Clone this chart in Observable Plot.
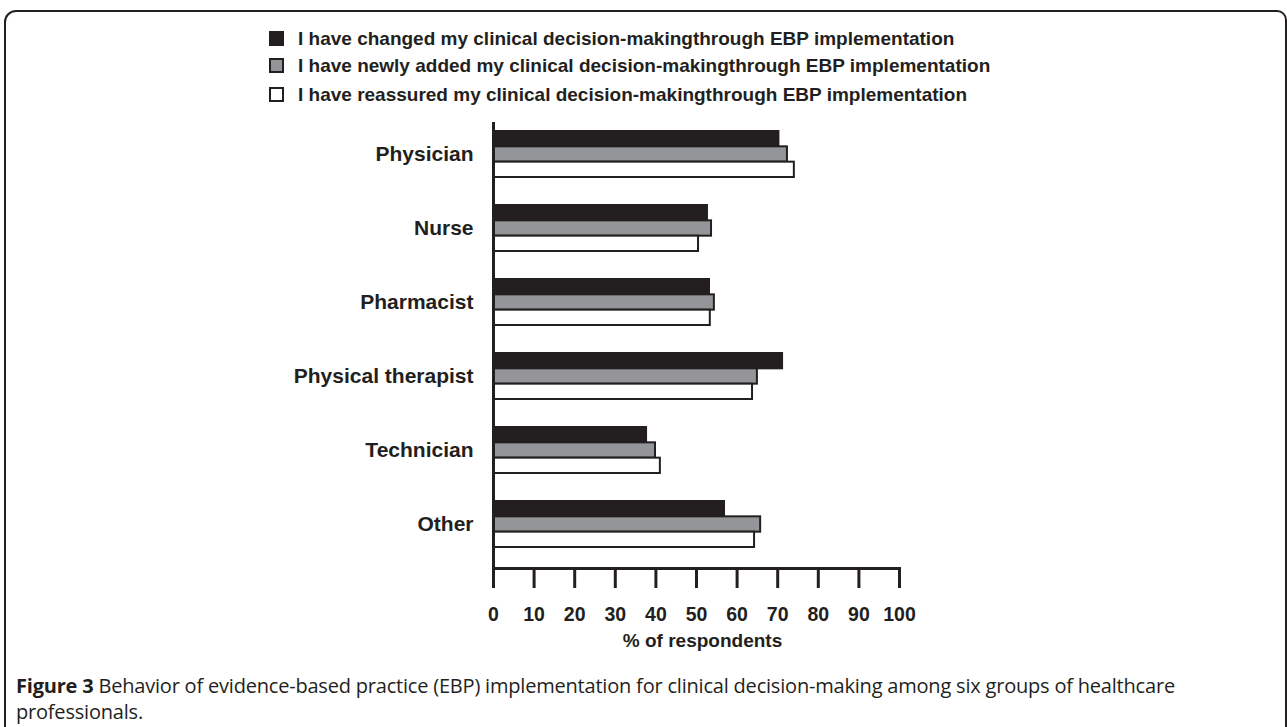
<!DOCTYPE html>
<html>
<head>
<meta charset="utf-8">
<script src="https://cdn.jsdelivr.net/npm/d3@7"></script>
<script src="https://cdn.jsdelivr.net/npm/@observablehq/plot@0.6"></script>
<style>
  html, body { margin: 0; padding: 0; background: #fff; width: 1287px; height: 727px; overflow: hidden; }
  body { position: relative; font-family: "Liberation Sans", Arial, sans-serif; color: #231f20; }
  #frame { position: absolute; left: 4px; top: 10px; width: 1283px; height: 760px;
    border: 2px solid #231f20; border-bottom: none; border-radius: 12px 10px 0 0; box-sizing: border-box; }
  .leg { position: absolute; left: 269px; font-weight: bold; font-size: 19px; line-height: 20px; white-space: nowrap; }
  .leg .sw { position: absolute; left: 0; top: 2px; width: 15px; height: 15px; border: 2px solid #231f20; box-sizing: border-box; }
  .leg .tx { position: absolute; left: 29px; top: 0; }
  #chart { position: absolute; left: 0; top: 110px; }
  #caption { position: absolute; left: 16px; top: 673px; font-family: "Open Sans", sans-serif; font-size: 20px; line-height: 26px; color: #231f20; white-space: nowrap; letter-spacing: -0.2px; }
</style>
</head>
<body>
<div id="frame"></div>
<div id="legend"></div>
<div id="chart"></div>
<div id="caption"><b>Figure 3</b> Behavior of evidence-based practice (EBP) implementation for clinical decision-making among six groups of healthcare<br>professionals.</div>
<script>
// ---- data ----
const categories = ["Physician", "Nurse", "Pharmacist", "Physical therapist", "Technician", "Other"];
const seriesNames = [
  "I have changed my clinical decision-makingthrough EBP implementation",
  "I have newly added my clinical decision-makingthrough EBP implementation",
  "I have reassured my clinical decision-makingthrough EBP implementation"
];
const seriesColors = ["#231f20", "#939598", "#ffffff"];
const changed   = [70.3, 52.7, 53.2, 71.2, 37.7, 56.9];
const added     = [72.4, 53.7, 54.4, 65.0, 39.9, 65.8];
const reassured = [74.1, 50.5, 53.4, 63.8, 41.1, 64.3];
const xTicks = [0, 10, 20, 30, 40, 50, 60, 70, 80, 90, 100];
const xLabel = "% of respondents";

// ---- legend ----
const legendTops = [29, 56, 85];
const legend = document.getElementById("legend");
seriesNames.forEach((name, i) => {
  const row = document.createElement("div");
  row.className = "leg";
  row.style.top = legendTops[i] + "px";
  row.innerHTML = `<span class="sw" style="background:${seriesColors[i]}"></span><span class="tx"></span>`;
  row.querySelector(".tx").textContent = name;
  legend.appendChild(row);
});

// ---- chart ----
const seriesValues = [changed, added, reassured];
const tables = seriesValues.map((vals, s) => categories.map((c, i) => ({group: c, value: vals[i], series: s})));
const bandH = 46;
const barH = bandH / 3;

const barMarks = tables.map((tbl, s) => Plot.barX(tbl, {
  x: "value", y: "group",
  fill: seriesColors[s], stroke: "#231f20", strokeWidth: 2,
  insetTop: s * barH, insetBottom: (2 - s) * barH
}));

const chart = Plot.plot({
  width: 1287,
  height: 550,
  marginLeft: 493,
  marginRight: 388,
  marginTop: 12,
  marginBottom: 92,
  style: {fontFamily: '"Liberation Sans", Arial, sans-serif', color: "#231f20", background: "transparent", overflow: "visible"},
  x: {domain: [0, 100]},
  y: {domain: categories, type: "band", paddingInner: 28 / 74, paddingOuter: 15 / 74, align: 0.3},
  marks: [
    ...barMarks,
    Plot.axisY({tickSize: 0, tickPadding: 20, fontSize: 21, fontWeight: "bold", label: null}),
    Plot.axisX({ticks: xTicks, tickSize: 20, tickPadding: 19, fontSize: 19.5, fontWeight: "bold", strokeWidth: 3, label: null}),
    Plot.text([xLabel], {frameAnchor: "bottom", dy: 72, dx: 6, fontSize: 19, fontWeight: "bold", fill: "#231f20", lineAnchor: "middle"}),
    Plot.ruleX([0], {strokeWidth: 3, stroke: "#231f20"}),
    Plot.frame({anchor: "bottom", strokeWidth: 3, stroke: "#231f20"})
  ]
});
document.getElementById("chart").appendChild(chart);
</script>
</body>
</html>
